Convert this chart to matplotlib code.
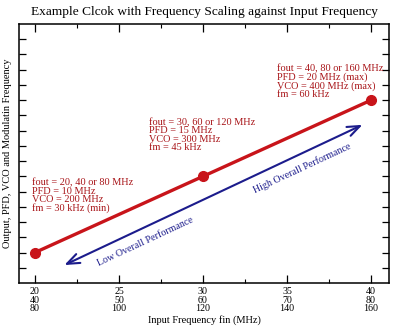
import matplotlib.pyplot as plt
import numpy as np

# input frequency (MHz) and the relative position of the output on the chart
fin = [20, 30, 40]
level = [2, 7, 12]
xtick_vals = [20, 25, 30, 35, 40]
xtick_labels = ['20\n40\n80', '25\n50\n100', '30\n60\n120', '35\n70\n140', '40\n80\n160']

notes = [
    'fout = 20, 40 or 80 MHz\nPFD = 10 MHz\nVCO = 200 MHz\nfm = 30 kHz (min)',
    'fout = 30, 60 or 120 MHz\nPFD = 15 MHz\nVCO = 300 MHz\nfm = 45 kHz',
    'fout = 40, 80 or 160 MHz\nPFD = 20 MHz (max)\nVCO = 400 MHz (max)\nfm = 60 kHz',
]
note_pos = [(19.85, 6.9), (26.8, 10.85), (34.4, 14.4)]

plt.rcParams['font.family'] = ['Liberation Serif', 'DejaVu Serif']

fig = plt.figure(figsize=(4.04, 3.30), dpi=100)
ax = fig.add_axes([19 / 404, 47 / 330, 370 / 404, 259 / 330])

red = '#c8141a'
blue = '#1c1c8c'

ax.plot(fin, level, color=red, lw=2.4, marker='o', ms=7, zorder=3)

for txt, (x, y) in zip(notes, note_pos):
    ax.text(x, y, txt, color='#a81418', fontsize=7.4, va='top', ha='left',
            linespacing=0.9)

# double arrow: low <-> high overall performance
ax.annotate('', xy=(39.64, 10.46), xytext=(21.6, 1.1),
            arrowprops=dict(arrowstyle='<->,head_length=0.9,head_width=0.35',
                            color=blue, lw=1.5))
ax.text(26.55, 2.7, 'Low Overall Performance', color=blue, fontsize=7.2,
        rotation=25, ha='center', va='center', rotation_mode='anchor')
ax.text(35.9, 7.55, 'High Overall Performance', color=blue, fontsize=7.2,
        rotation=25, ha='center', va='center', rotation_mode='anchor')

ax.set_xlim(19.05, 41.07)
ax.set_ylim(0, 17)
ax.set_xticks(xtick_vals)
ax.set_xticklabels(xtick_labels, fontsize=7.2, linespacing=0.95)
ax.set_xticks(np.arange(22.5, 40, 5), minor=True)
ax.set_yticks(np.arange(1, 17))
ax.set_yticklabels([])
ax.tick_params(which='major', direction='in', top=True, right=True,
               length=6, width=0.9, pad=3)
ax.tick_params(which='minor', direction='in', top=True, right=True,
               length=3, width=0.8)
ax.tick_params(axis='y', which='major', length=5)
for s in ax.spines.values():
    s.set_linewidth(1.1)

ax.set_xlabel('Input Frequency fin (MHz)', fontsize=7.5, labelpad=1)
ax.set_ylabel('Output, PFD, VCO and Modulatin Frequency', fontsize=7.5,
              labelpad=2)
fig.text(0.505, 0.965, 'Example Clcok with Frequency Scaling against Input Frequency',
         ha='center', va='center', fontsize=9.6)

fig.savefig('out.png', dpi=100)
